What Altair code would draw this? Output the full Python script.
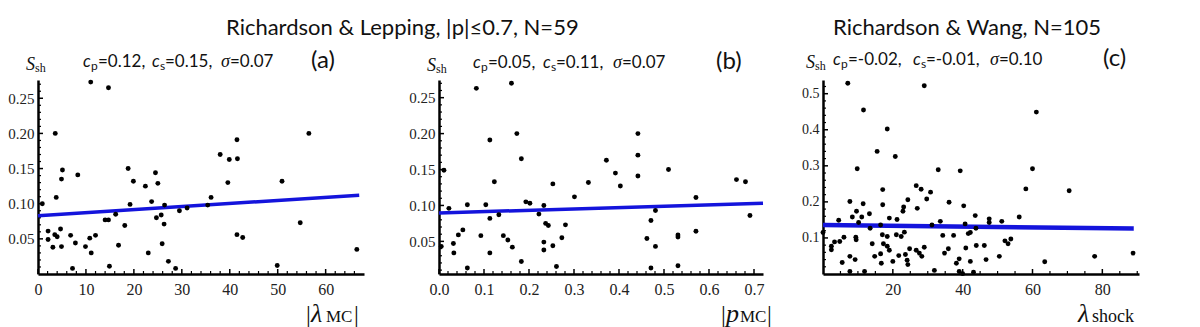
import altair as alt
import pandas as pd

# ---------------- data ----------------
a_x = [11.0,14.7,0.9,2.1,2.1,3.1,3.5,4.0,3.6,3.8,4.7,4.9,4.9,5.1,6.8,7.2,7.8,8.3,9.9,10.8,
       11.1,12.0,14.0,14.7,14.9,16.2,16.8,18.1,18.8,19.2,19.9,22.4,23.0,23.7,24.5,24.7,25.0,25.7,25.9,26.3,
       26.4,27.2,28.7,29.5,31.1,35.4,36.1,38.0,39.6,39.9,41.5,41.6,41.5,42.7,49.9,50.9,54.7,56.5,66.5]
a_y = [0.273,0.265,0.100,0.061,0.049,0.038,0.056,0.053,0.200,0.109,0.064,0.039,0.135,0.148,0.055,0.008,0.044,0.141,0.039,0.051,
       0.030,0.055,0.077,0.077,0.011,0.085,0.041,0.069,0.150,0.099,0.132,0.125,0.030,0.103,0.144,0.080,0.129,0.084,0.043,0.071,
       0.098,0.018,0.008,0.090,0.094,0.098,0.109,0.170,0.130,0.163,0.191,0.164,0.056,0.052,0.012,0.132,0.073,0.200,0.035]
a_fit_x = [0.0, 67.0]
a_fit_y = [0.083, 0.112]

b_x = [0.005,0.011,0.022,0.032,0.033,0.043,0.053,0.063,0.063,0.083,0.093,0.104,0.113,0.113,0.113,0.123,0.133,0.143,0.153,0.161,
       0.163,0.173,0.183,0.183,0.193,0.202,0.222,0.233,0.233,0.233,0.237,0.243,0.253,0.253,0.261,0.273,0.281,0.301,0.332,0.372,
       0.392,0.403,0.442,0.442,0.442,0.462,0.471,0.471,0.481,0.481,0.510,0.531,0.531,0.531,0.571,0.571,0.661,0.681,0.691]
b_y = [0.043,0.149,0.096,0.047,0.034,0.059,0.066,0.101,0.013,0.263,0.058,0.101,0.191,0.082,0.034,0.133,0.087,0.058,0.052,0.270,
       0.042,0.200,0.165,0.022,0.105,0.103,0.088,0.100,0.049,0.038,0.075,0.072,0.130,0.044,0.015,0.055,0.073,0.112,0.132,0.163,
       0.145,0.127,0.200,0.170,0.141,0.054,0.079,0.013,0.093,0.043,0.150,0.059,0.056,0.016,0.111,0.064,0.136,0.133,0.086]
b_fit_x = [0.0, 0.72]
b_fit_y = [0.0895, 0.103]

c_x = [0.0,2.4,2.4,3.3,4.5,4.8,6.0,5.5,7.7,7.7,7.7,8.4,9.2,9.4,9.5,9.8,9.6,10.2,11.1,11.6,
       11.5,11.9,13.3,13.5,14.1,14.8,15.5,17.1,17.1,16.5,17.0,17.3,16.5,16.7,18.4,18.4,18.4,19.0,19.0,20.0,
       20.7,21.0,21.2,21.7,22.4,22.9,23.1,23.3,23.6,24.1,24.3,24.3,24.8,26.7,27.0,26.7,27.6,28.1,28.3,29.0,
       29.7,30.8,31.2,31.9,33.0,33.6,34.3,34.8,35.9,36.1,37.4,38.2,39.0,39.3,39.0,40.0,40.3,40.7,40.9,41.6,
       42.2,42.2,43.1,43.6,43.9,43.8,46.2,46.7,47.6,47.6,50.5,51.2,52.1,53.0,53.8,56.2,58.1,60.0,61.1,63.5,
       70.5,77.8,88.8,7.1,29.0]
c_y = [0.115,0.077,0.067,0.089,0.149,0.090,0.102,0.032,0.201,0.049,0.007,0.158,0.040,0.102,0.095,0.292,0.174,0.143,0.158,0.455,
       0.195,0.007,0.167,0.127,0.084,0.049,0.340,0.234,0.192,0.136,0.109,0.084,0.056,0.030,0.402,0.104,0.077,0.155,0.066,0.035,
       0.326,0.109,0.151,0.051,0.104,0.174,0.186,0.116,0.054,0.038,0.026,0.206,0.070,0.245,0.182,0.066,0.058,0.235,0.049,0.074,
       0.208,0.227,0.136,0.010,0.289,0.146,0.107,0.058,0.070,0.199,0.107,0.030,0.042,0.286,0.007,0.001,0.189,0.139,0.072,0.112,
       0.035,0.115,0.005,0.162,0.079,0.127,0.079,0.040,0.153,0.143,0.049,0.146,0.092,0.084,0.097,0.158,0.236,0.292,0.449,0.034,
       0.231,0.049,0.058,0.529,0.522]
c_fit_x = [0.0, 89.0]
c_fit_y = [0.136, 0.126]

a_xticks = [0, 10, 20, 30, 40, 50, 60]
a_xminor = [v for v in range(2, 68, 2) if v % 10 != 0]
ab_yticks = [0.05, 0.10, 0.15, 0.20, 0.25]
ab_yminor = [round(0.01 * k, 2) for k in range(1, 28) if k % 5 != 0]
b_xticks = [0.0, 0.1, 0.2, 0.3, 0.4, 0.5, 0.6, 0.7]
b_xminor = [round(0.02 * k, 2) for k in range(1, 36) if k % 5 != 0]
c_xticks = [20, 40, 60, 80]
c_xminor = [v for v in range(5, 91, 5) if v % 20 != 0]
c_yticks = [0.1, 0.2, 0.3, 0.4, 0.5]
c_yminor = [round(0.02 * k, 2) for k in range(1, 27) if k % 5 != 0]

H = 194
SERIF = "Liberation Serif"
SANS = "Lato"
BLUE = "#1414dc"


def txt(s, x, y, size, font=SANS, style="normal", align="left", color="#111"):
    return alt.Chart(pd.DataFrame({"t": [s]})).mark_text(
        fontSize=size, font=font, fontStyle=style, align=align,
        baseline="alphabetic", color=color
    ).encode(x=alt.value(x), y=alt.value(y), text="t:N")


def panel(xs, ys, fx, fy, xdom, ydom, w, plot_w, xt, xm, yt, ym, xfmt, yfmt, ylab_size, lw, notes):
    xsc = alt.Scale(domain=xdom, nice=False, zero=False, range=[0, plot_w])
    ysc = alt.Scale(domain=ydom, nice=False, zero=False)
    xax = alt.Axis(values=xt, format=xfmt, title=None, labelFontSize=16, labelPadding=7)
    yax = alt.Axis(values=yt, format=yfmt, title=None, labelFontSize=ylab_size, labelPadding=4)
    X = alt.X("x:Q", scale=xsc, axis=xax)
    Y = alt.Y("y:Q", scale=ysc, axis=yax)
    pts = alt.Chart(pd.DataFrame({"x": xs, "y": ys})).mark_circle(
        size=24, color="black", opacity=1).encode(x=X, y=Y)
    fit = alt.Chart(pd.DataFrame({"x": fx, "y": fy})).mark_line(
        color=BLUE, strokeWidth=lw).encode(x=X, y=Y)
    xmaj = alt.Chart(pd.DataFrame({"x": xt})).mark_rule(color="black", strokeWidth=1.5).encode(
        x=X, y=alt.value(H), y2=alt.value(H - 5))
    xmin_ = alt.Chart(pd.DataFrame({"x": xm})).mark_rule(color="black", strokeWidth=1.2).encode(
        x=X, y=alt.value(H), y2=alt.value(H - 3))
    ymaj = alt.Chart(pd.DataFrame({"y": yt})).mark_rule(color="black", strokeWidth=1.5).encode(
        y=Y, x=alt.value(0), x2=alt.value(5))
    ymin_ = alt.Chart(pd.DataFrame({"y": ym})).mark_rule(color="black", strokeWidth=1.2).encode(
        y=Y, x=alt.value(0), x2=alt.value(3))
    return alt.layer(xmin_, xmaj, ymin_, ymaj, fit, pts, *notes).properties(width=w, height=H)


def stats(y0, S_dx, cp, cs, sg, xs, lab, lab_x, size=17):
    return [
        txt("S", S_dx, y0 + 3, size + 1, font=SERIF, style="italic"),
        txt("sh", S_dx + 9, y0 + 5, 12, font=SERIF),
        txt("c", xs[0], y0, size, style="italic"),
        txt("p", xs[0] + 8, y0 + 3, 12),
        txt(cp, xs[0] + 15, y0, size),
        txt("c", xs[1], y0, size, style="italic"),
        txt("s", xs[1] + 8, y0 + 3, 12),
        txt(cs, xs[1] + 13, y0, size),
        txt("σ", xs[2], y0, size + 1, font=SERIF, style="italic"),
        txt(sg, xs[2] + 9, y0, size),
        txt(lab, lab_x, y0 + 1, 24),
    ]


notes_a = stats(-13, -12, "=0.12,", "=0.15,", "=0.07", [45, 114, 183], "(a)", 273) + [
    txt("Richardson & Lepping,  |p|≤0.7,  N=59", 188, -45, 22),
    txt("|", 268, 242, 24, font=SERIF),
    txt("λ", 273, 242, 26, font=SERIF, style="italic"),
    txt("MC", 288, 242, 17, font=SERIF),
    txt("|", 316, 242, 24, font=SERIF),
]
notes_b = stats(-12, -12, "=0.05,", "=0.11,", "=0.07", [34, 104, 174], "(b)", 277) + [
    txt("|", 282, 242, 24, font=SERIF),
    txt("p", 287, 242, 26, font=SERIF, style="italic"),
    txt("MC", 301, 242, 17, font=SERIF),
    txt("|", 328, 242, 24, font=SERIF),
]
notes_c = stats(-15, -17, "=-0.02,", "=-0.01,", "=0.10", [10, 90, 167], "(c)", 280) + [
    txt("Richardson & Wang,  N=105", 10, -45, 22),
    txt("λ", 255, 242, 26, font=SERIF, style="italic"),
    txt("shock", 269, 242, 18, font=SERIF),
]

# panel a's group is 15px wider than its plot so the gaps between panels differ (75 and 60 px)
pa = panel(a_x, a_y, a_fit_x, a_fit_y, [0, 68], [0, 0.276], 341, 326,
           a_xticks, a_xminor, ab_yticks, ab_yminor, "d", ".2f", 15, 3.5, notes_a)
pb = panel(b_x, b_y, b_fit_x, b_fit_y, [0, 0.72], [0.0046, 0.2746], 324, 324,
           b_xticks, b_xminor, ab_yticks, ab_yminor, ".1f", ".2f", 15, 3.5, notes_b)
pc = panel(c_x, c_y, c_fit_x, c_fit_y, [0, 90.5], [0, 0.538], 316, 316,
           c_xticks, c_xminor, c_yticks, c_yminor, "d", ".1f", 14, 4.5, notes_c)

chart = alt.HConcatChart(hconcat=[pa, pb, pc], spacing=60, bounds="flush").properties(
    padding={"left": -1, "top": 9, "right": 5, "bottom": 5}
).configure_view(stroke=None).configure_axis(
    domainColor="black", domainWidth=2.5, ticks=False, grid=False,
    labelFont=SERIF, labelColor="#222", labelFlush=False
)

chart.save("out.html", embed_options={"renderer": "svg", "actions": False})
